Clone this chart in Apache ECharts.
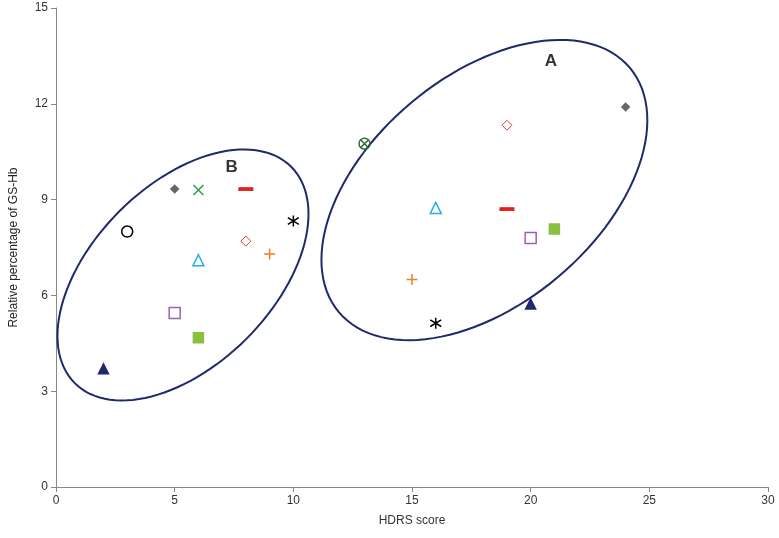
<!DOCTYPE html>
<html><head><meta charset="utf-8">
<script src="https://cdn.jsdelivr.net/npm/echarts@6/dist/echarts.min.js"></script>
<style>html,body{margin:0;background:#fff}#c{width:779px;height:538px}</style>
</head><body><div id="c"></div>
<script>
// point sets, [HDRS, GS-Hb %]
var openCircle = [[3, 8.0]];
var circleX = [[13, 10.75]];
var grayDiamond = [[5, 9.33], [24, 11.9]];
var greenX = [[6, 9.3]];
var redDash = [[8, 9.33], [19, 8.7]];
var asterisk = [[10, 8.33], [16, 5.13]];
var redDiamond = [[8, 7.7], [19, 11.33]];
var orangePlus = [[9, 7.3], [15, 6.5]];
var cyanTriangle = [[6, 7.1], [16, 8.74]];
var purpleSquare = [[5, 5.45], [20, 7.8]];
var greenSquare = [[6, 4.67], [21, 8.08]];
var navyTriangle = [[2, 3.7], [20, 5.73]];
var xTicks = [0, 5, 10, 15, 20, 25, 30];
var yTicks = [0, 3, 6, 9, 12, 15];
// ellipse outlines: center (data), semi axes (px), rotation (deg)
var ellipses = [
  {cx: 18.05, cy: 9.3, a: 190, b: 114, rot: 40},
  {cx: 5.35, cy: 6.64, a: 153, b: 90, rot: 45}
];
var groupLabels = [{name: 'A', value: [20.85, 13.34]}, {name: 'B', value: [7.4, 10.0]}];

var chart = echarts.init(document.getElementById('c'));
function sc(name, data, symbol, size, color, fill, bw) {
    return {
        name: name, type: 'scatter', data: data, symbol: symbol, symbolSize: size,
        itemStyle: {color: fill ? color : 'rgba(0,0,0,0)', borderColor: color, borderWidth: bw || 1.5, opacity: 1},
        z: 3
    };
}
var X = 'path://M0,0L10,10M10,0L0,10';
var PLUS = 'path://M5,0L5,10M0,5L10,5';
var AST = 'path://M5,0L5,10M0,2L10,8M10,2L0,8';
chart.setOption({
    animation: false,
    grid: {left: 46, right: 11, top: 8, bottom: 51},
    xAxis: {
        type: 'value', min: 0, max: 30, interval: 5,
        name: 'HDRS score', nameLocation: 'middle', nameGap: 28,
        nameTextStyle: {fontFamily: 'Liberation Sans', fontSize: 12, color: '#333'},
        axisLine: {lineStyle: {color: '#888'}},
        axisTick: {show: true, inside: false, lineStyle: {color: '#888'}},
        axisLabel: {fontFamily: 'Liberation Sans', fontSize: 12, color: '#333'},
        splitLine: {show: false}
    },
    yAxis: {
        type: 'value', min: 0, max: 15, interval: 3,
        name: 'Relative percentage of GS-Hb', nameLocation: 'middle', nameGap: 36,
        nameTextStyle: {fontFamily: 'Liberation Sans', fontSize: 12, color: '#222'},
        axisLine: {show: true, lineStyle: {color: '#888'}},
        axisTick: {show: true, lineStyle: {color: '#888'}},
        axisLabel: {fontFamily: 'Liberation Sans', fontSize: 12, color: '#333'},
        splitLine: {show: false}
    },
    series: [
        {
            type: 'custom', data: ellipses.map(function (e) { return [e.cx, e.cy, e.a, e.b, e.rot]; }),
            renderItem: function (params, api) {
                var c = api.coord([api.value(0), api.value(1)]);
                var a = api.value(2), b = api.value(3), r = api.value(4) * Math.PI / 180;
                var pts = [];
                for (var i = 0; i < 120; i++) {
                    var t = i / 120 * 2 * Math.PI;
                    var x = a * Math.cos(t), y = b * Math.sin(t);
                    pts.push([c[0] + x * Math.cos(r) + y * Math.sin(r), c[1] - x * Math.sin(r) + y * Math.cos(r)]);
                }
                return {type: 'polygon', shape: {points: pts}, style: {fill: 'none', stroke: '#1f2a6b', lineWidth: 2}};
            },
            z: 1, silent: true
        },
        {
            type: 'scatter', data: groupLabels, symbolSize: 0,
            label: {show: true, formatter: '{b}', fontFamily: 'Liberation Sans', fontWeight: 'bold', fontSize: 17, color: '#000'}
        },
        sc('circle', openCircle, 'circle', 11, '#000', false),
        sc('circleX', circleX, 'circle', 11, '#2e6b3a', false),
        sc('circleX2', circleX, X, 7, '#2e6b3a', false),
        sc('grayDiamond', grayDiamond, 'diamond', 9, '#666', true, 0.5),
        sc('greenX', greenX, X, 10, '#2aa04a', false),
        sc('redDash', redDash, 'rect', [12, 3], '#e02020', true, 0),
        sc('asterisk', asterisk, AST, 11, '#000', false),
        sc('redDiamond', redDiamond, 'diamond', 10, '#e04030', false, 1),
        sc('orangePlus', orangePlus, PLUS, 11, '#f08020', false),
        sc('cyanTriangle', cyanTriangle, 'triangle', 11, '#20b0e8', false),
        sc('purpleSquare', purpleSquare, 'rect', 11, '#9a60b8', false),
        sc('greenSquare', greenSquare, 'rect', 10, '#8ac040', true, 0),
        sc('navyTriangle', navyTriangle, 'triangle', 10, '#1f2a6b', true, 0)
    ]
});
</script></body></html>
